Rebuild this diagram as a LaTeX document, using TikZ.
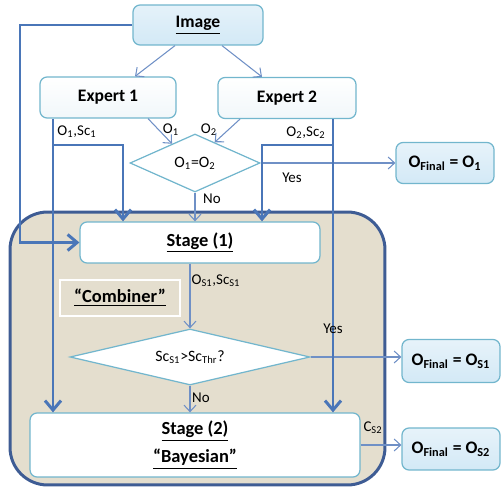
\documentclass[tikz,border=0pt]{standalone}
\usepackage{fontspec}
\setmainfont{Carlito}
\usetikzlibrary{arrows.meta, shapes.geometric, calc}
\definecolor{thkblue}{HTML}{4A76B8}
\definecolor{thnblue}{HTML}{6F90C6}
\definecolor{boxline}{HTML}{72B6CD}
\definecolor{imgfill}{HTML}{D3E9F6}
\definecolor{expfill}{HTML}{F1F7FA}
\definecolor{combfill}{HTML}{E4DECE}
\definecolor{combline}{HTML}{3E5C94}
\def\xLeft{20}
\def\xEa{53}
\def\xEb{333}
\def\xSa{123}
\def\xSb{262}
\def\yBus{145}
\tikzset{
  flbox/.style={draw=boxline, line width=0.7pt, rounded corners=4pt, inner sep=0pt, font=\bfseries},
  imgbox/.style={flbox, top color=imgfill!60!white, bottom color=imgfill},
  expbox/.style={flbox, top color=white, bottom color=expfill},
  stagebox/.style={flbox, fill=white, align=center, font=\fontsize{10.5}{13}\selectfont\bfseries},
  outbox/.style={flbox, top color=imgfill!55!white, bottom color=imgfill, minimum width=1.96cm, font=\fontsize{10}{12}\selectfont\bfseries},
  decide/.style={diamond, aspect=3, draw=boxline, line width=0.7pt, fill=white, inner sep=0pt, font=\fontsize{9}{11}\selectfont},
  combbox/.style={draw=combline, line width=1.7pt, fill=combfill, rounded corners=0.75cm},
  combtag/.style={draw=white, line width=1.6pt, font=\fontsize{10.5}{13}\selectfont\bfseries},
  thn/.style={draw=thnblue, line width=0.6pt, -{Straight Barb[length=1.3mm, width=2.4mm]}},
  thk/.style={draw=thkblue, line width=1.7pt, -{Straight Barb[length=1.9mm, width=3.2mm]}},
  flbl/.style={font=\fontsize{8.5}{10}\selectfont, inner sep=1pt},
}
\begin{document}
\begin{tikzpicture}[x=0.02cm, y=-0.02cm]
  \useasboundingbox (0,0) rectangle (501,490);

  \node[combbox, minimum width=7.5cm, minimum height=5.46cm] (comb) at (197.5,348.5) {};

  \node[imgbox, minimum width=2.6cm, minimum height=0.8cm] (img) at (198,25) {\underline{Image}};
  \node[expbox, minimum width=2.72cm, minimum height=0.82cm] (e1) at (108,97.5) {Expert 1};
  \node[expbox, minimum width=2.76cm, minimum height=0.82cm] (e2) at (287,98) {Expert 2};
  \node[decide, minimum width=2.6cm, minimum height=1.16cm] (dia1) at (195,163) {O\textsubscript{1}=O\textsubscript{2}};
  \node[outbox, minimum height=0.82cm] (of1) at (445,163) {O\textsubscript{Final} = O\textsubscript{1}};

  \node[stagebox, minimum width=4.8cm, minimum height=0.82cm] (st1) at (200,242.5) {\underline{Stage (1)}};
  \node[combtag, minimum width=2.4cm, minimum height=0.72cm] (ctag) at (120,298) {\underline{“Combiner”}};
  \node[decide, minimum width=4.8cm, minimum height=1.12cm] (dia2) at (190,357) {Sc\textsubscript{S1}>Sc\textsubscript{Thr}?};
  \node[outbox, minimum height=0.86cm] (of2) at (451,361) {O\textsubscript{Final} = O\textsubscript{S1}};
  \node[stagebox, minimum width=6.6cm, minimum height=1.28cm] (st2) at (195,445) {\underline{Stage (2)}\\[3pt]\underline{“Bayesian”}};
  \node[outbox, minimum height=0.84cm] (of3) at (451,449) {O\textsubscript{Final} = O\textsubscript{S2}};

  \coordinate (lbus) at (\xLeft,0);
  \coordinate (b1) at (\xEa,\yBus);
  \coordinate (b2) at (\xSa,\yBus);
  \coordinate (b3) at (\xEb,\yBus);
  \coordinate (b4) at (\xSb,\yBus);

  \draw[thn] ($(img.south)+(-23,0)$) -- ($(e1.north)+(27,0)$);
  \draw[thn] ($(img.south)+(24,0)$) -- ($(e2.north)+(-25,0)$);
  \draw[thn] ($(e1.south)+(40,0)$) -- ($(dia1.north)!0.35!(dia1.west)$);
  \draw[thn] ($(e2.south)+(-47,0)$) -- ($(dia1.north)!0.3!(dia1.east)$);
  \draw[thn] (dia1.east) -- (of1.west);
  \draw[thn] (dia1.south) -- (st1.north -| dia1.south);
  \draw[thn] (st1.south -| dia2.north) -- (dia2.north);
  \draw[thn] (dia2.east) -- (dia2.east -| of2.west);
  \draw[thn] (dia2.south) -- (st2.north -| dia2.south);
  \draw[thn] (st2.east) -- (st2.east -| of3.west);

  \draw[thk] (img.west) -| (st1.west -| lbus) -- (st1.west);
  \draw[thk] (e1.south -| b1) -- (st2.north -| b1);
  \draw[thk] (b1) -- (b2) -- (st1.north -| b2);
  \draw[thk] (e2.south -| b3) -- (st2.north -| b3);
  \draw[thk] (b3) -- (b4) -- (st1.north -| b4);

  \node[flbl] (l1) at (77,132) {O\textsubscript{1},Sc\textsubscript{1}};
  \node[flbl] (l2) at (306,133) {O\textsubscript{2},Sc\textsubscript{2}};
  \node[flbl] (l3) at (171,130) {O\textsubscript{1}};
  \node[flbl] (l4) at (209,130) {O\textsubscript{2}};
  \node[flbl] (l5) at (292,178) {Yes};
  \node[flbl] (l6) at (212,199) {No};
  \node[flbl] (l7) at (216,281) {O\textsubscript{S1},Sc\textsubscript{S1}};
  \node[flbl] (l8) at (333,329) {Yes};
  \node[flbl] (l9) at (201,398) {No};
  \node[flbl] (l10) at (373,428) {C\textsubscript{S2}};
\end{tikzpicture}
\end{document}
